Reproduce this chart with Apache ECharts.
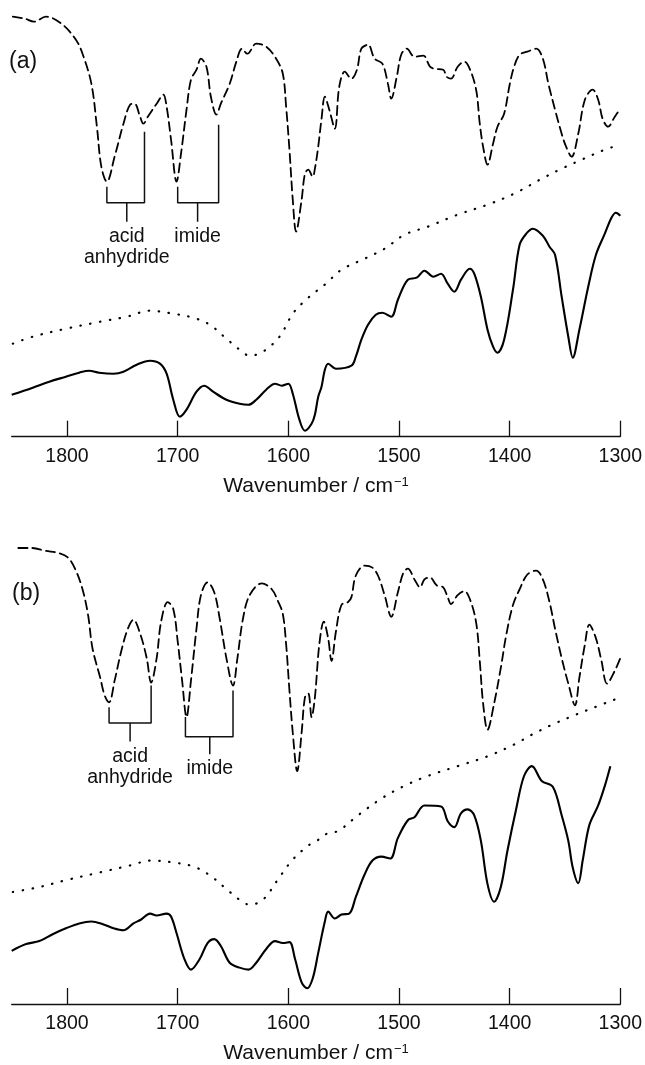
<!DOCTYPE html>
<html>
<head>
<meta charset="utf-8">
<title>IR spectra</title>
<script src="https://cdn.jsdelivr.net/npm/echarts@6/dist/echarts.min.js"></script>
<style>
  html, body { margin: 0; padding: 0; background: #fff; }
  #chart { width: 645px; height: 1065px; }
</style>
</head>
<body>
<div id="chart"></div>
<script>
// tick labels on the wavenumber axis
const tickValues = [1800, 1700, 1600, 1500, 1400, 1300]

// panel (a) spectra, [wavenumber, signal (arb. units)]
const dashedA = [[1849, 420], [1838, 418], [1830, 415], [1819, 420], [1805, 413], [1792, 397], [1786, 383], [1778, 353], [1773, 310], [1769, 270], [1764, 255], [1757, 280], [1749, 313], [1743, 332], [1739, 333], [1734, 320], [1731, 313], [1727, 320], [1719, 333], [1713, 342], [1710, 330], [1706, 297], [1701, 255], [1697, 283], [1692, 327], [1688, 357], [1683, 367], [1679, 378], [1674, 370], [1670, 340], [1665, 322], [1661, 333], [1653, 353], [1647, 375], [1642, 388], [1637, 383], [1629, 393], [1620, 390], [1611, 378], [1605, 363], [1602, 330], [1599, 287], [1596, 237], [1593, 205], [1588, 237], [1585, 263], [1582, 267], [1578, 260], [1576, 268], [1573, 290], [1570, 318], [1567, 340], [1563, 327], [1558, 308], [1554, 350], [1549, 365], [1543, 358], [1538, 367], [1534, 388], [1528, 392], [1522, 378], [1515, 373], [1510, 353], [1507, 338], [1502, 360], [1498, 382], [1493, 388], [1486, 380], [1478, 381], [1472, 370], [1468, 368], [1460, 367], [1457, 360], [1453, 358], [1447, 370], [1441, 375], [1435, 365], [1430, 345], [1427, 313], [1424, 290], [1420, 272], [1415, 293], [1411, 310], [1405, 323], [1400, 352], [1396, 370], [1391, 382], [1384, 385], [1376, 388], [1370, 378], [1365, 353], [1359, 327], [1353, 303], [1349, 290], [1344, 280], [1338, 303], [1332, 337], [1325, 347], [1320, 337], [1316, 318], [1311, 310], [1305, 320], [1300, 328]]
const dottedA = [[1849, 93], [1831, 100], [1801, 108], [1770, 115], [1746, 120], [1725, 126], [1704, 123], [1686, 119], [1671, 112], [1656, 98], [1644, 87], [1635, 81], [1623, 85], [1608, 100], [1596, 123], [1584, 137], [1573, 147], [1566, 153], [1552, 167], [1531, 178], [1513, 188], [1495, 202], [1474, 210], [1447, 222], [1420, 232], [1396, 243], [1371, 258], [1353, 268], [1335, 277], [1314, 287], [1300, 292]]
const solidA = [[1850, 42], [1831, 49], [1816, 55], [1801, 60], [1789, 64], [1780, 66], [1771, 64], [1758, 63], [1749, 65], [1737, 72], [1725, 76], [1716, 73], [1710, 63], [1704, 37], [1698, 20], [1692, 27], [1683, 45], [1676, 51], [1668, 45], [1656, 37], [1644, 33], [1636, 32], [1629, 37], [1620, 47], [1612, 53], [1606, 51], [1600, 53], [1596, 43], [1590, 17], [1585, 6], [1579, 13], [1576, 22], [1573, 40], [1570, 50], [1567, 67], [1564, 73], [1557, 68], [1543, 71], [1539, 80], [1534, 97], [1528, 112], [1521, 122], [1515, 124], [1507, 120], [1501, 137], [1492, 157], [1484, 159], [1477, 166], [1469, 160], [1462, 163], [1456, 153], [1450, 145], [1444, 157], [1436, 168], [1432, 163], [1426, 140], [1420, 107], [1415, 90], [1411, 84], [1405, 97], [1397, 147], [1391, 192], [1385, 203], [1379, 208], [1370, 201], [1364, 190], [1359, 182], [1353, 140], [1347, 100], [1343, 79], [1337, 107], [1329, 150], [1322, 182], [1314, 203], [1308, 219], [1304, 224], [1300, 221]]

// panel (b) spectra
const dashedB = [[1844, 464], [1832, 464], [1819, 461], [1808, 459], [1799, 454], [1792, 441], [1786, 422], [1781, 396], [1777, 362], [1770, 332], [1766, 314], [1762, 307], [1757, 329], [1751, 359], [1745, 382], [1740, 391], [1734, 377], [1728, 352], [1724, 327], [1719, 352], [1715, 389], [1709, 409], [1704, 402], [1700, 369], [1696, 329], [1692, 292], [1688, 329], [1683, 382], [1679, 416], [1673, 429], [1667, 419], [1662, 392], [1656, 352], [1650, 324], [1646, 352], [1641, 392], [1635, 416], [1624, 428], [1615, 422], [1609, 409], [1605, 397], [1602, 366], [1599, 319], [1596, 276], [1592, 237], [1588, 276], [1585, 312], [1582, 316], [1579, 292], [1576, 312], [1572, 366], [1568, 389], [1564, 372], [1561, 349], [1557, 379], [1552, 406], [1546, 409], [1543, 414], [1539, 436], [1531, 446], [1524, 444], [1519, 436], [1513, 416], [1507, 394], [1501, 419], [1496, 439], [1492, 443], [1486, 432], [1481, 424], [1477, 432], [1472, 434], [1466, 426], [1460, 424], [1456, 414], [1453, 407], [1447, 416], [1441, 420], [1435, 409], [1430, 386], [1427, 349], [1424, 306], [1420, 279], [1414, 306], [1408, 342], [1403, 376], [1397, 406], [1391, 422], [1384, 437], [1376, 441], [1370, 432], [1364, 409], [1359, 382], [1353, 352], [1347, 326], [1341, 304], [1337, 332], [1332, 366], [1328, 386], [1322, 372], [1317, 349], [1312, 326], [1305, 339], [1300, 352]]
const dottedB = [[1849, 114], [1825, 119], [1801, 126], [1770, 134], [1743, 141], [1724, 146], [1704, 144], [1686, 140], [1671, 131], [1656, 117], [1644, 106], [1635, 101], [1623, 106], [1608, 129], [1596, 147], [1581, 162], [1573, 167], [1564, 174], [1555, 176], [1537, 192], [1516, 209], [1495, 222], [1474, 232], [1447, 242], [1420, 252], [1396, 264], [1380, 274], [1362, 284], [1341, 294], [1323, 302], [1300, 312]]
const solidB = [[1850, 54], [1837, 61], [1825, 64], [1813, 71], [1801, 77], [1789, 82], [1778, 84], [1767, 81], [1758, 77], [1749, 75], [1740, 82], [1733, 86], [1725, 92], [1719, 90], [1710, 92], [1706, 89], [1701, 72], [1694, 46], [1688, 35], [1680, 46], [1673, 62], [1667, 66], [1661, 59], [1653, 42], [1644, 37], [1636, 35], [1629, 42], [1620, 56], [1612, 64], [1605, 62], [1599, 63], [1594, 46], [1588, 22], [1583, 16], [1578, 26], [1573, 52], [1567, 84], [1564, 94], [1558, 87], [1552, 91], [1545, 92], [1539, 109], [1531, 132], [1524, 146], [1516, 150], [1508, 148], [1501, 169], [1492, 187], [1486, 190], [1477, 202], [1462, 201], [1456, 186], [1450, 180], [1444, 194], [1438, 198], [1432, 192], [1426, 166], [1420, 122], [1414, 104], [1408, 119], [1402, 156], [1394, 199], [1387, 232], [1380, 242], [1371, 227], [1361, 221], [1353, 192], [1347, 166], [1343, 139], [1338, 123], [1334, 146], [1328, 182], [1320, 202], [1314, 222], [1309, 242]]

// band assignment brackets: [left top, left bottom, stem, stem end, stem, right bottom, right top]
const anhydrideBracketA = [[1764, 250], [1764, 234], [1746, 234], [1746, 215], [1746, 234], [1730, 234], [1730, 305]]
const imideBracketA = [[1700, 250], [1700, 234], [1682, 234], [1682, 215], [1682, 234], [1663, 234], [1663, 312]]
const anhydrideBracketB = [[1762, 302], [1762, 286], [1743, 286], [1743, 267], [1743, 286], [1724, 286], [1724, 324]]
const imideBracketB = [[1693, 292], [1693, 272], [1671, 272], [1671, 254], [1671, 272], [1650, 272], [1650, 319]]
const bracketLabels = ['acid\nanhydride', 'imide']

const FONT = "'Liberation Sans', Arial, Helvetica, sans-serif"
const chart = echarts.init(document.getElementById('chart'))

function makeXAxis (gridIndex) {
  return {
    type: 'value',
    gridIndex: gridIndex,
    inverse: true,
    min: 1300,
    max: 1850,
    interval: 100,
    name: 'Wavenumber / cm{sup|\u22121}',
    nameLocation: 'middle',
    nameGap: 39,
    nameTextStyle: {
      fontFamily: FONT,
      fontSize: 21,
      color: '#111',
      rich: {
        sup: { fontFamily: FONT, fontSize: 13, color: '#111', verticalAlign: 'top', padding: [0, 0, 6, 1] }
      }
    },
    axisLine: { onZero: false, lineStyle: { color: '#111', width: 1.3 } },
    axisTick: { inside: true, length: 16, customValues: tickValues, lineStyle: { color: '#111', width: 1.3 } },
    axisLabel: {
      customValues: tickValues,
      formatter: v => String(v),
      margin: 10,
      fontFamily: FONT,
      fontSize: 19.5,
      color: '#111'
    },
    splitLine: { show: false }
  }
}

function spectrum (data, idx, type, width) {
  return {
    type: 'line',
    xAxisIndex: idx,
    yAxisIndex: idx,
    data: data,
    smooth: 0.35,
    symbol: 'none',
    silent: true,
    lineStyle: { color: '#000', width: width, type: type, cap: type === 'solid' ? 'butt' : 'round' }
  }
}

function bracket (data, idx) {
  return {
    type: 'line',
    xAxisIndex: idx,
    yAxisIndex: idx,
    data: data,
    symbol: 'none',
    silent: true,
    lineStyle: { color: '#111', width: 1.5, join: 'bevel' }
  }
}

function bracketText (bracketData, text, idx) {
  const stemEnd = bracketData[3]
  return {
    type: 'scatter',
    xAxisIndex: idx,
    yAxisIndex: idx,
    symbolSize: 0,
    silent: true,
    itemStyle: { opacity: 1 },
    data: [stemEnd],
    label: {
      show: true,
      position: 'bottom',
      distance: 4,
      formatter: text,
      fontFamily: FONT,
      fontSize: 19.5,
      lineHeight: 21.5,
      color: '#111',
      opacity: 1,
      align: 'center'
    }
  }
}

chart.setOption({
  animation: false,
  backgroundColor: '#fff',
  title: [
    { text: '(a)', left: 9, top: 50, padding: 0, textStyle: { fontFamily: FONT, fontSize: 23, fontWeight: 'normal', color: '#111' } },
    { text: '(b)', left: 12, top: 582, padding: 0, textStyle: { fontFamily: FONT, fontSize: 23, fontWeight: 'normal', color: '#111' } }
  ],
  grid: [
    { left: 11.7, right: 24.3, top: 0, height: 436.7 },
    { left: 11.7, right: 24.3, top: 530, height: 482.3 }
  ],
  xAxis: [makeXAxis(0), makeXAxis(1)],
  yAxis: [
    { type: 'value', gridIndex: 0, min: 0, max: 436.7, show: false },
    { type: 'value', gridIndex: 1, min: 0, max: 482.3, show: false }
  ],
  series: [
    spectrum(dashedA, 0, [9, 5], 1.8),
    spectrum(dottedA, 0, [0.5, 9.5], 2.2),
    spectrum(solidA, 0, 'solid', 2.1),
    spectrum(dashedB, 1, [9, 5], 1.8),
    spectrum(dottedB, 1, [0.5, 9.5], 2.2),
    spectrum(solidB, 1, 'solid', 2.1),
    bracket(anhydrideBracketA, 0),
    bracket(imideBracketA, 0),
    bracket(anhydrideBracketB, 1),
    bracket(imideBracketB, 1),
    bracketText(anhydrideBracketA, bracketLabels[0], 0),
    bracketText(imideBracketA, bracketLabels[1], 0),
    bracketText(anhydrideBracketB, bracketLabels[0], 1),
    bracketText(imideBracketB, bracketLabels[1], 1)
  ]
})
</script>
</body>
</html>
